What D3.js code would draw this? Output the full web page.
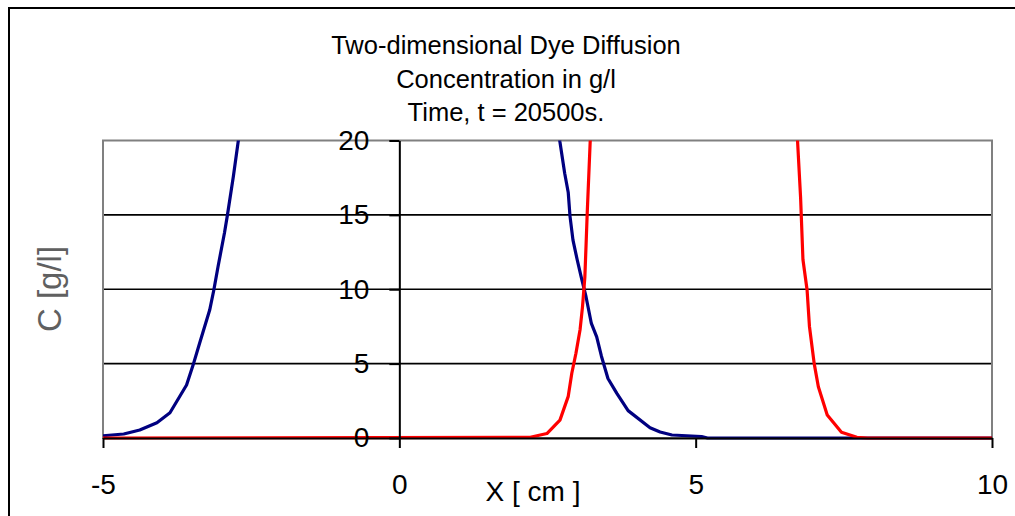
<!DOCTYPE html>
<html>
<head>
<meta charset="utf-8">
<script src="https://cdn.jsdelivr.net/npm/d3@7"></script>
<style>
  html, body { margin: 0; padding: 0; background: #fff; }
  svg { display: block; font-family: Arial, "Liberation Sans", sans-serif; }
</style>
</head>
<body>
<svg id="chart" width="1015" height="516"></svg>
<script>
// ---- data ----
const titleLines = ["Two-dimensional Dye Diffusion", "Concentration in g/l", "Time, t = 20500s."];
const xTicks = [-5, 0, 5, 10];
const yTicks = [0, 5, 10, 15, 20];

// blue series (null = gap where the curve is above the plotted range)
const blueX = [-5, -4.65, -4.38, -4.09, -3.87, -3.59, -3.48, -3.37, -3.2, -3.13, -3.06, -2.95, -2.9, -2.8, -2.72, -2.66,
               null,
               2.66, 2.71, 2.79, 2.85, 2.88, 2.93, 3.0, 3.07, 3.15, 3.24, 3.33, 3.41, 3.52, 3.67, 3.86, 4.23, 4.4, 4.6, 5.1, 5.2, 10];
const blueC = [0.15, 0.27, 0.54, 1.03, 1.7, 3.56, 4.9, 6.37, 8.6, 9.95, 11.5, 13.8, 15.0, 17.6, 19.9, 21.5,
               null,
               21.5, 19.9, 17.8, 16.5, 14.9, 13.3, 12.0, 10.8, 9.5, 7.7, 6.8, 5.5, 4.0, 3.0, 1.84, 0.69, 0.4, 0.2, 0.1, 0, 0];

// red series
const redX = [-5, 2.21, 2.49, 2.71, 2.85, 2.91, 2.98, 3.05, 3.09, 3.13, 3.15, 3.17, 3.22, 3.25,
              null,
              6.7, 6.72, 6.77, 6.81, 6.88, 6.92, 7.0, 7.07, 7.22, 7.46, 7.72, 7.9, 10];
const redC = [0, 0.05, 0.3, 1.2, 2.8, 4.35, 5.7, 7.3, 8.8, 10.8, 12.9, 15.1, 19.9, 21.5,
              null,
              21.5, 19.9, 16.2, 12.0, 9.95, 7.5, 5.0, 3.45, 1.55, 0.38, 0.05, 0, 0];

// ---- layout ----
const svg = d3.select("#chart");
const L = 103, R = 992, T = 140.5, B = 438;
const x = d3.scaleLinear().domain([-5, 10]).range([L, R]);
const y = d3.scaleLinear().domain([0, 20]).range([B, T]);
const fmt = d => String(d);

// outer chart border
svg.append("rect").attr("x", 9).attr("y", 8).attr("width", 1030).attr("height", 530)
  .attr("fill", "#fff").attr("stroke", "#000").attr("stroke-width", 2);

// title
svg.append("g").selectAll("text").data(titleLines).join("text")
  .attr("x", 506).attr("y", (d, i) => 54 + i * 33.5)
  .attr("text-anchor", "middle").attr("font-size", 25.5).attr("fill", "#000")
  .text(d => d);

// gridlines
svg.append("g").selectAll("line").data(yTicks.filter(t => t > 0 && t < 20)).join("line")
  .attr("x1", L).attr("x2", R).attr("y1", d => y(d)).attr("y2", d => y(d))
  .attr("stroke", "#000").attr("stroke-width", 1.6);

// plot area border (gray)
svg.append("rect").attr("x", L).attr("y", T).attr("width", R - L).attr("height", B - T)
  .attr("fill", "none").attr("stroke", "#808080").attr("stroke-width", 2);

// data
svg.append("clipPath").attr("id", "clip").append("rect")
  .attr("x", L).attr("y", T).attr("width", R - L).attr("height", B - T + 4);
const line = d3.line().defined(d => d[0] != null && d[1] != null).x(d => x(d[0])).y(d => y(d[1]));
const blue = blueX.map((v, i) => [v, blueC[i]]);
const red = redX.map((v, i) => [v, redC[i]]);
const gData = svg.append("g").attr("clip-path", "url(#clip)");
gData.append("path").datum(blue).attr("d", line).attr("fill", "none")
  .attr("stroke", "#000080").attr("stroke-width", 3.2).attr("stroke-linejoin", "round");
gData.append("path").datum(red).attr("d", line).attr("fill", "none")
  .attr("stroke", "#ff0000").attr("stroke-width", 3.2).attr("stroke-linejoin", "round");

// x axis at y = 0
const xAxis = svg.append("g").attr("transform", `translate(0,${y(0)})`)
  .call(d3.axisBottom(x).tickValues(xTicks).tickFormat(fmt).tickSize(10).tickPadding(26).tickSizeOuter(0));
xAxis.select(".domain").attr("stroke", "#000").attr("stroke-width", 2);
xAxis.selectAll(".tick line").attr("stroke", "#000").attr("stroke-width", 2);
xAxis.selectAll(".tick text").attr("font-size", 28).attr("fill", "#000")
  .attr("font-family", "Arial, 'Liberation Sans', sans-serif");

// y axis at x = 0
const yAxis = svg.append("g").attr("transform", `translate(${x(0)},0)`)
  .call(d3.axisLeft(y).tickValues(yTicks).tickFormat(fmt).tickSize(10).tickPadding(20).tickSizeOuter(0));
yAxis.select(".domain").attr("stroke", "#000").attr("stroke-width", 2);
yAxis.selectAll(".tick line").attr("stroke", "#000").attr("stroke-width", 2);
yAxis.selectAll(".tick text").attr("font-size", 28).attr("fill", "#000")
  .attr("font-family", "Arial, 'Liberation Sans', sans-serif");

// axis titles
svg.append("text").attr("x", 533).attr("y", 501).attr("text-anchor", "middle")
  .attr("font-size", 28).attr("fill", "#000").text("X [ cm ]");
svg.append("text").attr("transform", "translate(49,289) rotate(-90)")
  .attr("text-anchor", "middle").attr("dominant-baseline", "central")
  .attr("font-size", 33).attr("fill", "#606060").text("C [g/l]");
</script>
</body>
</html>
